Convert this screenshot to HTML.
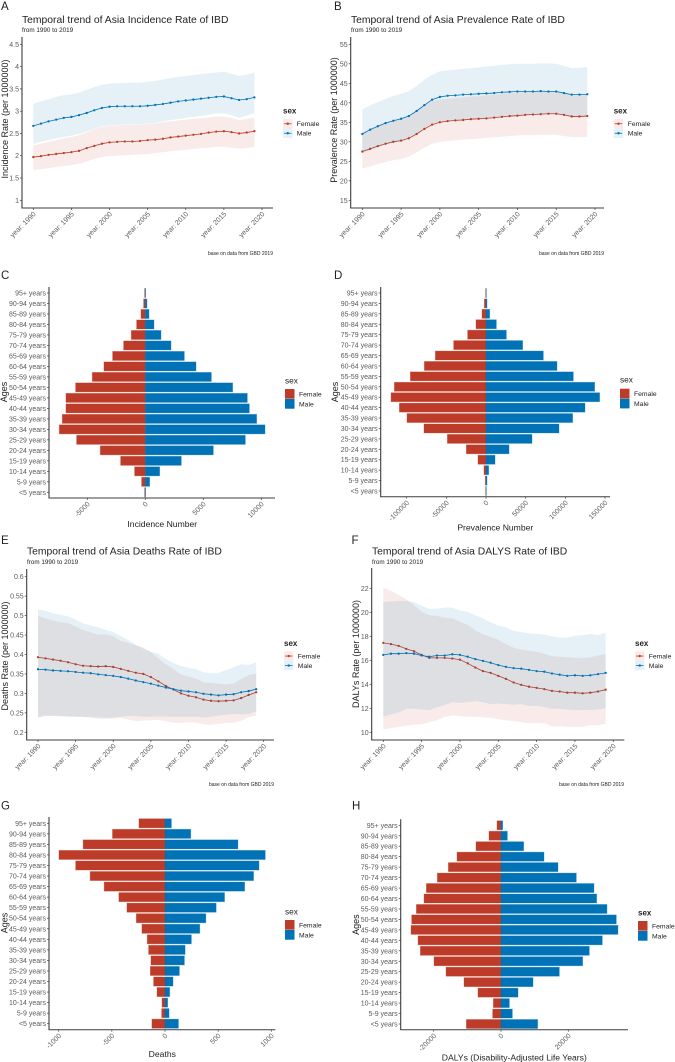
<!DOCTYPE html>
<html lang="en">
<head>
<meta charset="utf-8">
<title>Asia IBD burden figure</title>
<style>
html,body{margin:0;padding:0;background:#fff;}
svg{display:block;font-family:"Liberation Sans",sans-serif;}
.letter{font-size:11.5px;fill:#222;}
.ttl{font-size:10.35px;fill:#222;}
.sub{font-size:6.3px;fill:#222;}
.cap{font-size:5px;fill:#222;text-anchor:end;}
.axt{font-size:9px;fill:#222;text-anchor:middle;}
.axx{font-size:8.6px;fill:#222;text-anchor:middle;}
.lgb{font-size:8px;font-weight:bold;fill:#222;}
.lgn{font-size:8.3px;fill:#222;}
.lgt{font-size:6.8px;fill:#222;}
.tick{font-size:7px;fill:#5a5a5a;}
</style>
</head>
<body>
<svg id="fig" width="675" height="1062" viewBox="0 0 675 1062">
<rect width="675" height="1062" fill="#fff"/>

<text class="letter" x="1" y="10">A</text>
<text class="letter" x="334" y="10">B</text>
<text class="letter" x="1" y="279">C</text>
<text class="letter" x="334" y="279">D</text>
<text class="letter" x="1" y="544">E</text>
<text class="letter" x="351.5" y="544">F</text>
<text class="letter" x="1" y="809.5">G</text>
<text class="letter" x="352" y="809.5">H</text>

<text class="ttl" x="22" y="23">Temporal trend of Asia Incidence Rate of IBD</text>
<text class="sub" x="22" y="32">from 1990 to 2019</text>
<text class="cap" x="273" y="255">base on data from GBD 2019</text>
<text class="axt" transform="translate(8,119) rotate(-90)">Incidence Rate (per 1000000)</text>

<text class="ttl" x="351" y="23">Temporal trend of Asia Prevalence Rate of IBD</text>
<text class="sub" x="351" y="32">from 1990 to 2019</text>
<text class="cap" x="604" y="255">base on data from GBD 2019</text>
<text class="axt" transform="translate(337,120) rotate(-90)">Prevalence Rate (per 1000000)</text>

<text class="axt" transform="translate(7,392) rotate(-90)">Ages</text>
<text class="axx" x="162.3" y="527">Incidence Number</text>
<text class="axt" transform="translate(338,392) rotate(-90)">Ages</text>
<text class="axx" x="495.3" y="530.5">Prevalence Number</text>

<text class="ttl" x="27" y="554.5">Temporal trend of Asia Deaths Rate of IBD</text>
<text class="sub" x="27" y="564">from 1990 to 2019</text>
<text class="cap" x="274" y="786">base on data from GBD 2019</text>
<text class="axt" transform="translate(8,656) rotate(-90)">Deaths Rate (per 1000000)</text>

<text class="ttl" x="372" y="554.5">Temporal trend of Asia DALYS Rate of IBD</text>
<text class="sub" x="372" y="564">from 1990 to 2019</text>
<text class="cap" x="624" y="786">base on data from GBD 2019</text>
<text class="axt" transform="translate(359,654) rotate(-90)">DALYs Rate (per 1000000)</text>

<text class="axt" transform="translate(7.5,923) rotate(-90)">Ages</text>
<text class="axx" x="162.3" y="1057">Deaths</text>
<text class="axt" transform="translate(359,924.6) rotate(-90)">Ages</text>
<text class="axx" x="514.3" y="1060.3">DALYs (Disability-Adjusted Life Years)</text>

<g transform="translate(283,111)">
  <text class="lgb" y="2.7">sex</text>
  <rect y="8" width="9.5" height="9.5" fill="#BC3C29" fill-opacity=".1"/>
  <line x1="1" x2="8.5" y1="12.75" y2="12.75" stroke="#BC3C29" stroke-width=".8"/><circle cx="4.75" cy="12.75" r="1.2" fill="#BC3C29"/>
  <rect y="17.5" width="9.5" height="9.5" fill="#0072B5" fill-opacity=".1"/>
  <line x1="1" x2="8.5" y1="22.25" y2="22.25" stroke="#0072B5" stroke-width=".8"/><circle cx="4.75" cy="22.25" r="1.2" fill="#0072B5"/>
  <text class="lgt" x="13.7" y="15.2">Female</text>
  <text class="lgt" x="13.7" y="24.7">Male</text>
</g>
<g transform="translate(613.7,111)">
  <text class="lgb" y="2.7">sex</text>
  <rect y="8" width="9.5" height="9.5" fill="#BC3C29" fill-opacity=".1"/>
  <line x1="1" x2="8.5" y1="12.75" y2="12.75" stroke="#BC3C29" stroke-width=".8"/><circle cx="4.75" cy="12.75" r="1.2" fill="#BC3C29"/>
  <rect y="17.5" width="9.5" height="9.5" fill="#0072B5" fill-opacity=".1"/>
  <line x1="1" x2="8.5" y1="22.25" y2="22.25" stroke="#0072B5" stroke-width=".8"/><circle cx="4.75" cy="22.25" r="1.2" fill="#0072B5"/>
  <text class="lgt" x="14" y="15.2">Female</text>
  <text class="lgt" x="14" y="24.7">Male</text>
</g>
<g transform="translate(284,643.3)">
  <text class="lgb" y="2.7">sex</text>
  <rect y="8" width="9.5" height="9.5" fill="#BC3C29" fill-opacity=".1"/>
  <line x1="1" x2="8.5" y1="12.75" y2="12.75" stroke="#BC3C29" stroke-width=".8"/><circle cx="4.75" cy="12.75" r="1.2" fill="#BC3C29"/>
  <rect y="17.5" width="9.5" height="9.5" fill="#0072B5" fill-opacity=".1"/>
  <line x1="1" x2="8.5" y1="22.25" y2="22.25" stroke="#0072B5" stroke-width=".8"/><circle cx="4.75" cy="22.25" r="1.2" fill="#0072B5"/>
  <text class="lgt" x="13.7" y="15.2">Female</text>
  <text class="lgt" x="13.7" y="24.7">Male</text>
</g>
<g transform="translate(635,643.3)">
  <text class="lgb" y="2.7">sex</text>
  <rect y="8" width="9.5" height="9.5" fill="#BC3C29" fill-opacity=".1"/>
  <line x1="1" x2="8.5" y1="12.75" y2="12.75" stroke="#BC3C29" stroke-width=".8"/><circle cx="4.75" cy="12.75" r="1.2" fill="#BC3C29"/>
  <rect y="17.5" width="9.5" height="9.5" fill="#0072B5" fill-opacity=".1"/>
  <line x1="1" x2="8.5" y1="22.25" y2="22.25" stroke="#0072B5" stroke-width=".8"/><circle cx="4.75" cy="22.25" r="1.2" fill="#0072B5"/>
  <text class="lgt" x="13.7" y="15.2">Female</text>
  <text class="lgt" x="13.7" y="24.7">Male</text>
</g>

<g transform="translate(285,381)">
  <text class="lgn" y="2.7">sex</text>
  <rect y="8" width="9.5" height="9.7" fill="#BC3C29"/>
  <rect y="18" width="9.5" height="9.7" fill="#0072B5"/>
  <text class="lgt" x="14" y="15.3">Female</text>
  <text class="lgt" x="14" y="25.3">Male</text>
</g>
<g transform="translate(620,380)">
  <text class="lgn" y="2.7">sex</text>
  <rect y="8.7" width="9.5" height="9.7" fill="#BC3C29"/>
  <rect y="18.7" width="9.5" height="9.7" fill="#0072B5"/>
  <text class="lgt" x="14" y="16">Female</text>
  <text class="lgt" x="14" y="26">Male</text>
</g>
<g transform="translate(285,912)">
  <text class="lgn" y="2.7">sex</text>
  <rect y="8" width="9.5" height="9.7" fill="#BC3C29"/>
  <rect y="18" width="9.5" height="9.7" fill="#0072B5"/>
  <text class="lgt" x="14" y="15.3">Female</text>
  <text class="lgt" x="14" y="25.3">Male</text>
</g>
<g transform="translate(638,913)">
  <text class="lgb" y="2.7">sex</text>
  <rect y="8" width="9.5" height="9.7" fill="#BC3C29"/>
  <rect y="18" width="9.5" height="9.7" fill="#0072B5"/>
  <text class="lgt" x="14" y="15.3">Female</text>
  <text class="lgt" x="14" y="25.3">Male</text>
</g>
</svg>

<script>
/* ---------- shared categories ---------- */
const years = [1990,1991,1992,1993,1994,1995,1996,1997,1998,1999,2000,2001,2002,2003,2004,2005,2006,2007,2008,2009,2010,2011,2012,2013,2014,2015,2016,2017,2018,2019];
const yearTicks = [1990,1995,2000,2005,2010,2015,2020];
const ageGroups = ["95+ years","90-94 years","85-89 years","80-84 years","75-79 years","70-74 years","65-69 years","60-64 years","55-59 years","50-54 years","45-49 years","40-44 years","35-39 years","30-34 years","25-29 years","20-24 years","15-19 years","10-14 years","5-9 years","<5 years"];

/* ---------- A: incidence rate ---------- */
const incidenceFemale = [1.97,1.99,2.02,2.04,2.06,2.08,2.11,2.17,2.22,2.27,2.30,2.31,2.32,2.32,2.33,2.35,2.36,2.38,2.41,2.43,2.45,2.47,2.49,2.52,2.54,2.55,2.53,2.50,2.52,2.55];
const incidenceFemaleUpper = [2.23,2.27,2.31,2.35,2.39,2.42,2.46,2.52,2.59,2.65,2.67,2.68,2.69,2.69,2.70,2.71,2.73,2.75,2.77,2.79,2.81,2.83,2.84,2.86,2.88,2.88,2.85,2.80,2.83,2.85];
const incidenceFemaleLower = [1.68,1.70,1.72,1.75,1.77,1.79,1.82,1.87,1.93,1.97,1.99,2.00,2.01,2.02,2.03,2.04,2.06,2.08,2.10,2.12,2.13,2.15,2.17,2.18,2.20,2.20,2.18,2.16,2.17,2.20];
const incidenceMale = [2.67,2.72,2.77,2.81,2.85,2.87,2.91,2.96,3.02,3.07,3.10,3.11,3.11,3.11,3.11,3.12,3.14,3.16,3.19,3.22,3.24,3.26,3.28,3.30,3.32,3.33,3.29,3.25,3.27,3.31];
const incidenceMaleUpper = [3.17,3.22,3.27,3.32,3.36,3.38,3.42,3.48,3.54,3.59,3.62,3.63,3.63,3.64,3.64,3.66,3.68,3.71,3.74,3.77,3.79,3.81,3.83,3.85,3.87,3.88,3.84,3.79,3.82,3.87];
const incidenceMaleLower = [2.27,2.31,2.35,2.39,2.42,2.45,2.49,2.54,2.60,2.66,2.68,2.69,2.70,2.70,2.71,2.72,2.74,2.77,2.80,2.82,2.85,2.87,2.89,2.92,2.95,2.95,2.91,2.85,2.90,2.96];
const incidenceTicks = [1,1.5,2,2.5,3,3.5,4,4.5];

/* ---------- B: prevalence rate ---------- */
const prevalenceFemale = [27.5,28.2,28.9,29.5,30.0,30.3,30.9,32.0,33.3,34.4,35.0,35.3,35.5,35.6,35.8,35.9,36.0,36.2,36.4,36.6,36.7,36.9,37.0,37.1,37.2,37.2,36.9,36.5,36.5,36.6];
const prevalenceFemaleUpper = [32.3,33.3,34.2,35.0,35.5,36.0,36.7,38.1,39.6,40.5,40.8,41.0,41.2,41.4,41.6,41.7,41.9,42.1,42.3,42.5,42.6,42.7,42.9,42.9,42.9,42.8,42.5,42.0,41.9,42.0];
const prevalenceFemaleLower = [23.1,23.7,24.3,24.8,25.3,25.6,26.2,27.3,28.5,29.5,30.0,30.2,30.4,30.6,30.7,30.8,31.0,31.2,31.3,31.5,31.6,31.7,31.7,31.8,31.8,31.8,31.5,31.2,31.2,31.3];
const prevalenceMale = [32.0,33.1,34.0,34.8,35.4,35.9,36.6,37.9,39.4,40.8,41.5,41.8,41.9,42.1,42.2,42.3,42.4,42.5,42.7,42.8,42.9,42.9,42.9,43.0,42.9,42.9,42.5,42.1,42.1,42.2];
const prevalenceMaleUpper = [38.3,39.3,40.2,41.0,41.8,42.3,43.0,44.3,45.9,47.2,48.1,48.3,48.5,48.7,48.9,49.1,49.3,49.5,49.7,49.9,50.0,50.0,50.0,50.1,50.1,50.0,49.5,48.9,49.0,49.2];
const prevalenceMaleLower = [27.0,27.8,28.6,29.3,29.8,30.2,30.8,32.0,33.5,34.7,35.2,35.4,35.6,35.8,35.9,36.0,36.1,36.3,36.5,36.6,36.8,36.9,37.0,37.1,37.1,37.1,36.8,36.4,36.4,36.5];
const prevalenceTicks = [15,20,25,30,35,40,45,50,55];

/* ---------- C: incidence number ---------- */
const incidenceNumFemale = [57,144,374,747,1207,1868,2816,3563,4569,6006,6839,6839,7155,7414,5920,3879,2126,920,316,57];
const incidenceNumMale = [30,144,316,747,1351,2213,3362,4368,5690,7529,8793,8966,9598,10316,8621,5862,3103,1236,374,30];
const incidenceNumTicks = [-5000,0,5000,10000];

/* ---------- D: prevalence number ---------- */
const prevalenceNumFemale = [420,2100,5040,12600,23100,40740,63840,77700,95340,115500,119700,109200,99540,78120,48720,24780,10080,2520,840,420];
const prevalenceNumMale = [420,1260,4620,13020,25620,46200,72240,89460,110040,136920,143220,124740,109200,91980,57960,28980,11340,3360,1260,420];
const prevalenceNumTicks = [-100000,-50000,0,50000,100000,150000];

/* ---------- E: deaths rate ---------- */
const deathsFemale = [.393,.390,.387,.384,.380,.375,.371,.370,.369,.370,.368,.363,.358,.353,.350,.342,.331,.319,.310,.300,.294,.290,.284,.281,.280,.281,.282,.288,.296,.303];
const deathsFemaleUpper = [.499,.493,.487,.483,.481,.472,.463,.457,.451,.451,.447,.435,.430,.424,.418,.406,.390,.375,.362,.349,.343,.338,.328,.327,.325,.323,.325,.337,.347,.351];
const deathsFemaleLower = [.238,.242,.242,.241,.240,.240,.239,.238,.235,.235,.235,.237,.233,.229,.230,.231,.232,.228,.225,.224,.226,.225,.220,.219,.222,.224,.225,.230,.239,.243];
const deathsMale = [.362,.361,.359,.358,.357,.355,.353,.352,.349,.347,.345,.342,.338,.333,.329,.325,.320,.315,.311,.307,.305,.303,.299,.297,.295,.297,.298,.303,.306,.311];
const deathsMaleUpper = [.516,.512,.506,.502,.498,.490,.480,.475,.470,.463,.458,.448,.437,.425,.415,.407,.402,.388,.378,.370,.366,.362,.354,.352,.353,.360,.367,.375,.373,.379];
const deathsMaleLower = [.239,.243,.243,.242,.241,.240,.240,.239,.238,.237,.238,.240,.242,.242,.240,.240,.241,.240,.240,.240,.240,.240,.238,.240,.243,.245,.247,.246,.247,.254];
const deathsTicks = [.2,.25,.3,.35,.4,.45,.5,.55,.6];

/* ---------- F: DALYs rate ---------- */
const dalysFemale = [17.45,17.35,17.2,16.95,16.75,16.45,16.2,16.2,16.2,16.15,16.05,15.75,15.4,15.1,14.95,14.7,14.45,14.15,13.95,13.8,13.7,13.6,13.45,13.4,13.3,13.3,13.25,13.3,13.4,13.55];
const dalysFemaleUpper = [22.05,21.8,21.45,21.1,20.6,20.05,19.75,19.7,19.55,19.5,19.2,18.95,18.5,18.15,17.95,17.7,17.35,17.05,16.9,16.8,16.7,16.55,16.35,16.3,16.25,16.2,16.2,16.25,16.4,16.5];
const dalysFemaleLower = [10.25,10.35,10.45,10.55,10.65,10.65,10.85,11.0,11.3,11.4,11.35,11.3,11.3,11.25,11.2,11.1,11.0,10.95,10.85,10.75,10.8,10.75,10.5,10.5,10.45,10.45,10.45,10.6,10.6,10.7];
const dalysMale = [16.45,16.55,16.55,16.6,16.55,16.4,16.3,16.4,16.4,16.5,16.45,16.3,16.1,15.95,15.8,15.6,15.45,15.35,15.3,15.2,15.1,15.05,14.9,14.8,14.7,14.75,14.7,14.75,14.85,14.95];
const dalysMaleUpper = [20.85,20.9,20.95,20.95,20.85,20.55,20.3,20.3,20.4,20.4,20.15,20.05,19.75,19.5,19.15,18.9,18.75,18.45,18.35,18.25,18.2,18.15,18.0,17.9,17.9,18.05,18.1,18.2,18.1,18.3];
const dalysMaleLower = [11.3,11.5,11.65,11.95,11.95,11.9,11.85,12.1,12.25,12.5,12.45,12.5,12.6,12.5,12.35,12.4,12.35,12.3,12.35,12.2,12.2,12.1,11.95,11.95,11.9,11.85,11.85,11.85,11.9,12.0];
const dalysTicks = [10,12,14,16,18,20,22];

/* ---------- G: deaths number ---------- */
const deathsNumFemale = [245,494,770,997,840,704,572,434,358,270,217,167,154,132,138,107,75,28,31,123];
const deathsNumMale = [60,242,686,943,884,833,749,560,481,384,327,248,189,182,135,75,44,25,38,126];
const deathsNumTicks = [-1000,-500,0,500,1000];

/* ---------- H: DALYs number ---------- */
const dalysNumFemale = [1188,3564,7425,13068,15642,18909,22176,22869,25146,26532,26730,24651,23958,19899,16335,10989,6831,2277,2475,10296];
const dalysNumMale = [495,1881,6732,12771,16929,22374,27621,28413,31482,34254,34749,30096,26235,24255,17325,9504,5049,2475,3366,10890];
const dalysNumTicks = [-20000,0,20000];

const FEMALE = "#BC3C29";
const MALE = "#0072B5";
const AXIS = "#3d3d3d";
const NS = "http://www.w3.org/2000/svg";
const fig = document.getElementById("fig");

function make(tag, parent, props) {
  const el = document.createElementNS(NS, tag);
  for (const k in props) el.setAttribute(k, props[k]);
  parent.appendChild(el);
  return el;
}
function linear(v0, p0, v1, p1) {
  return function (v) { return p0 + (v - v0) * (p1 - p0) / (v1 - v0); };
}
function areaPath(xs, upper, lower, x, y) {
  let d = "";
  xs.forEach(function (v, i) { d += (i ? "L" : "M") + x(v).toFixed(2) + " " + y(upper[i]).toFixed(2); });
  for (let i = xs.length - 1; i >= 0; i--) d += "L" + x(xs[i]).toFixed(2) + " " + y(lower[i]).toFixed(2);
  return d + "Z";
}
function axisFrame(g, box) {
  const yl = make("line", g, {x1: box.left, x2: box.left, y1: box.top, y2: box.bottom, stroke: AXIS, "stroke-width": 1.1});
  
  
  const xl = make("line", g, {x1: box.left - .5, x2: box.right, y1: box.bottom, y2: box.bottom, stroke: AXIS, "stroke-width": 1});
  
  
}
function xTick(g, px, box, label) {
  const t = make("line", g, {x1: px, x2: px, y1: box.bottom, y2: box.bottom + 2, stroke: AXIS, "stroke-width": .7});
  
  
  const s = make("text", g, {class: "tick", "text-anchor": "end", transform: "translate(" + (px + 3) + "," + (box.bottom + 6.5) + ") rotate(-45)"});
  s.textContent = label;
  
  
}
function yTick(g, py, box, label) {
  const t = make("line", g, {x1: box.left - 2, x2: box.left, y1: py, y2: py, stroke: AXIS, "stroke-width": .7});
  
  
  const s = make("text", g, {class: "tick", "text-anchor": "end", x: box.left - 3, y: py + 2.5});
  s.textContent = label;
  
  
}
function drawSeries(g, xs, mid, upper, lower, color, x, y, key) {
  const band = make("path", g, {d: areaPath(xs, upper, lower, x, y), fill: color, "fill-opacity": .1});
  
  
  const pts = xs.map(function (v, i) { return x(v).toFixed(2) + "," + y(mid[i]).toFixed(2); }).join(" ");
  const line = make("polyline", g, {points: pts, fill: "none", stroke: color, "stroke-width": .8});
  
  
  xs.forEach(function (v, i) {
    const c = make("circle", g, {cx: x(v).toFixed(2), cy: y(mid[i]).toFixed(2), r: 1.15, fill: color});
    
    
  });
}
function drawTrend(name, box, xCal, yCal, ticks, s) {
  const g = make("g", fig, {});
  
  
  const x = linear(1990, xCal[0], 2020, xCal[1]);
  const y = linear(ticks[0], yCal[0], ticks[ticks.length - 1], yCal[1]);
  drawSeries(g, years, s.fm, s.fu, s.fl, FEMALE, x, y, "female");
  drawSeries(g, years, s.mm, s.mu, s.ml, MALE, x, y, "male");
  axisFrame(g, box);
  yearTicks.forEach(function (v) { xTick(g, x(v), box, "year: " + v); });
  ticks.forEach(function (v) { yTick(g, y(v), box, String(v)); });
}
function drawPyramid(name, box, xCal, yCal, ticks, female, male) {
  const g = make("g", fig, {});
  
  
  const x = linear(0, xCal[0], xCal[2], xCal[1]);
  const y = linear(0, yCal[0], ageGroups.length - 1, yCal[1]);
  const h = (yCal[1] - yCal[0]) / (ageGroups.length - 1) * .86;
  ageGroups.forEach(function (age, i) {
    const f = make("rect", g, {x: x(-female[i]).toFixed(2), y: (y(i) - h / 2).toFixed(2), width: (x(0) - x(-female[i])).toFixed(2), height: h.toFixed(2), fill: FEMALE, stroke: FEMALE, "stroke-opacity": .4, "stroke-width": .8});
    
    
    const m = make("rect", g, {x: x(0).toFixed(2), y: (y(i) - h / 2).toFixed(2), width: (x(male[i]) - x(0)).toFixed(2), height: h.toFixed(2), fill: MALE, stroke: MALE, "stroke-opacity": .4, "stroke-width": .8});
    
    
    yTick(g, y(i), box, age);
  });
  axisFrame(g, box);
  ticks.forEach(function (v) { xTick(g, x(v), box, String(v)); });
}

drawTrend("incidence-rate-chart", {left: 22, right: 273, top: 37, bottom: 208}, [33.3, 262], [200.3, 44.3], incidenceTicks,
  {fm: incidenceFemale, fu: incidenceFemaleUpper, fl: incidenceFemaleLower, mm: incidenceMale, mu: incidenceMaleUpper, ml: incidenceMaleLower});
drawTrend("prevalence-rate-chart", {left: 350.7, right: 604, top: 37, bottom: 208}, [362.3, 595], [200.3, 44.3], prevalenceTicks,
  {fm: prevalenceFemale, fu: prevalenceFemaleUpper, fl: prevalenceFemaleLower, mm: prevalenceMale, mu: prevalenceMaleUpper, ml: prevalenceMaleLower});
drawTrend("deaths-rate-chart", {left: 26.7, right: 274, top: 569, bottom: 740}, [38, 263.7], [732.3, 576.7], deathsTicks,
  {fm: deathsFemale, fu: deathsFemaleUpper, fl: deathsFemaleLower, mm: deathsMale, mu: deathsMaleUpper, ml: deathsMaleLower});
drawTrend("dalys-rate-chart", {left: 371.7, right: 624.3, top: 568, bottom: 740}, [383.3, 613.3], [732.3, 588.3], dalysTicks,
  {fm: dalysFemale, fu: dalysFemaleUpper, fl: dalysFemaleLower, mm: dalysMale, mu: dalysMaleUpper, ml: dalysMaleLower});

drawPyramid("incidence-number-pyramid", {left: 49, right: 275, top: 287, bottom: 498}, [145.3, 261.3, 10000], [293, 492.3], incidenceNumTicks, incidenceNumFemale, incidenceNumMale);
drawPyramid("prevalence-number-pyramid", {left: 380.7, right: 610, top: 287, bottom: 496.7}, [486, 605, 150000], [293, 491], prevalenceNumTicks, prevalenceNumFemale, prevalenceNumMale);
drawPyramid("deaths-number-pyramid", {left: 49, right: 275.3, top: 817, bottom: 1029.7}, [165, 271.3, 1000], [823.3, 1023.7], deathsNumTicks, deathsNumFemale, deathsNumMale);
drawPyramid("dalys-number-pyramid", {left: 400.7, right: 628, top: 819.3, bottom: 1029.7}, [501, 568.3, 20000], [825.3, 1024], dalysNumTicks, dalysNumFemale, dalysNumMale);
</script>
</body>
</html>
